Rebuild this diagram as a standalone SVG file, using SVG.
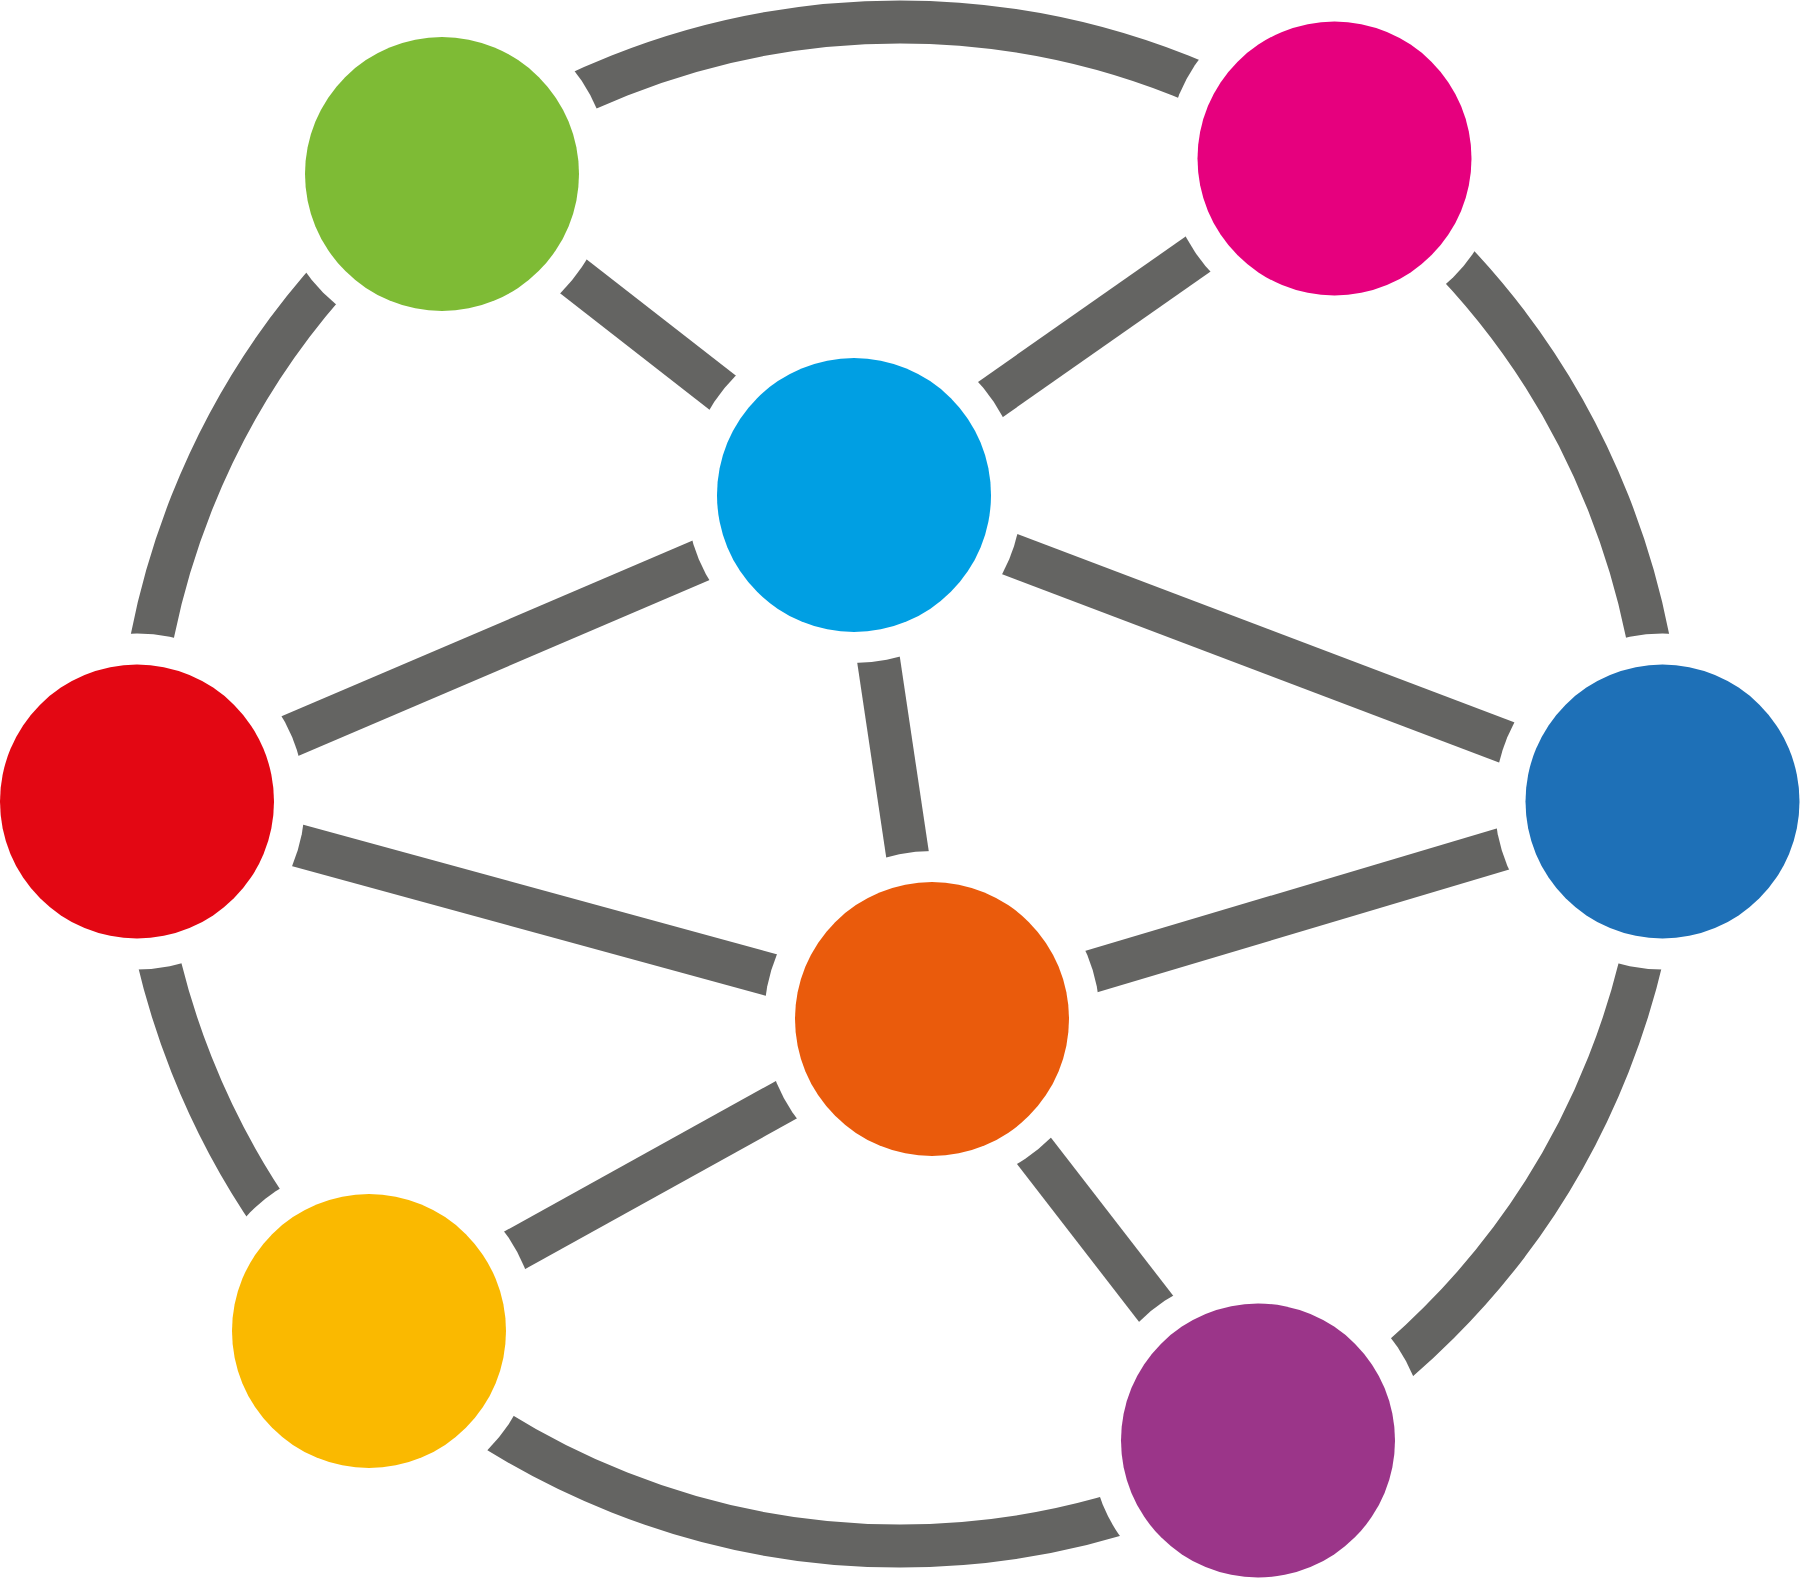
<svg xmlns="http://www.w3.org/2000/svg" width="1800" height="1578" viewBox="0 0 1800 1578">
  <style>
    .edge { stroke: #646462; stroke-width: 43; fill: none; }
    .halo { fill: #ffffff; }
  </style>
  <rect width="1800" height="1578" fill="#ffffff"/>
  <g id="connectors">
    <circle class="edge" cx="900" cy="784" r="762"/>
    <line class="edge" x1="442" y1="174" x2="854" y2="495"/>
    <line class="edge" x1="1334.5" y1="158.5" x2="854" y2="495"/>
    <line class="edge" x1="137" y1="801.5" x2="854" y2="495"/>
    <line class="edge" x1="854" y1="495" x2="1662.5" y2="801.5"/>
    <line class="edge" x1="854" y1="495" x2="932" y2="1019"/>
    <line class="edge" x1="137" y1="801.5" x2="932" y2="1019"/>
    <line class="edge" x1="1662.5" y1="801.5" x2="932" y2="1019"/>
    <line class="edge" x1="932" y1="1019" x2="369" y2="1331"/>
    <line class="edge" x1="932" y1="1019" x2="1258" y2="1440.5"/>
  </g>
  <g id="node-green">
    <circle class="halo" cx="442" cy="174" r="168"/>
    <circle cx="442" cy="174" r="137" fill="#7EBB35"/>
  </g>
  <g id="node-magenta">
    <circle class="halo" cx="1334.5" cy="158.5" r="168"/>
    <circle cx="1334.5" cy="158.5" r="137" fill="#E6007E"/>
  </g>
  <g id="node-lightblue">
    <circle class="halo" cx="854" cy="495" r="168"/>
    <circle cx="854" cy="495" r="137" fill="#009FE3"/>
  </g>
  <g id="node-red">
    <circle class="halo" cx="137" cy="801.5" r="168"/>
    <circle cx="137" cy="801.5" r="137" fill="#E30713"/>
  </g>
  <g id="node-darkblue">
    <circle class="halo" cx="1662.5" cy="801.5" r="168"/>
    <circle cx="1662.5" cy="801.5" r="137" fill="#1E70B7"/>
  </g>
  <g id="node-orange">
    <circle class="halo" cx="932" cy="1019" r="168"/>
    <circle cx="932" cy="1019" r="137" fill="#EA5B0C"/>
  </g>
  <g id="node-yellow">
    <circle class="halo" cx="369" cy="1331" r="168"/>
    <circle cx="369" cy="1331" r="137" fill="#FAB900"/>
  </g>
  <g id="node-purple">
    <circle class="halo" cx="1258" cy="1440.5" r="168"/>
    <circle cx="1258" cy="1440.5" r="137" fill="#9B3589"/>
  </g>
</svg>
